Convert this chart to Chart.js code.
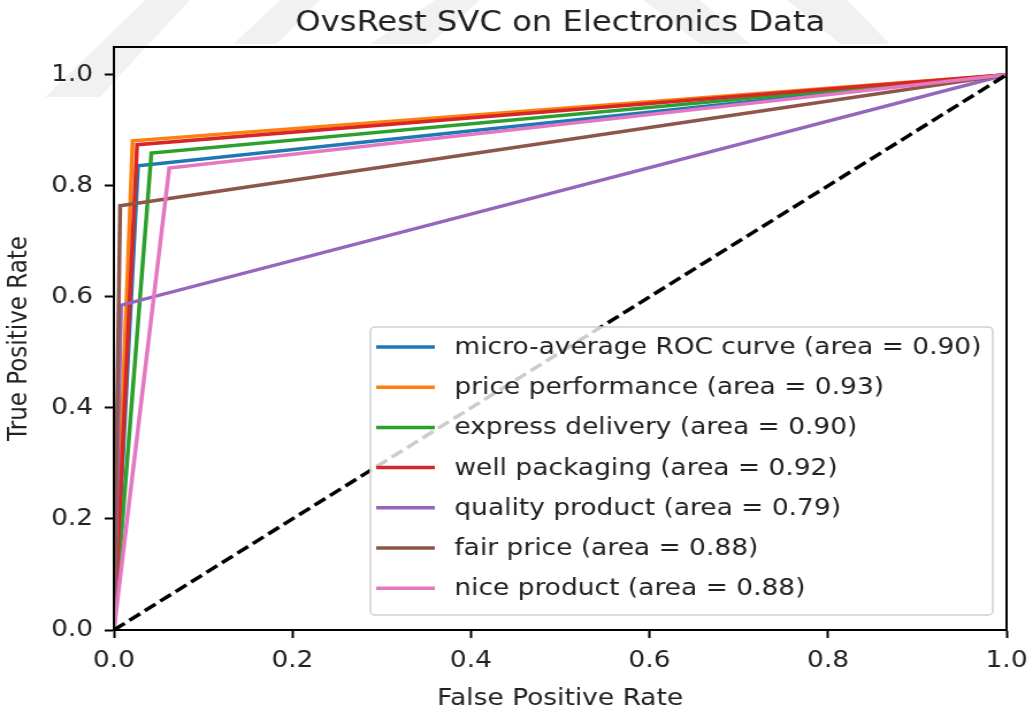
<!DOCTYPE html>
<html lang="en">
<head>
    <meta charset="UTF-8">
    <title>OvsRest SVC on Electronics Data</title>
    <script src="https://cdn.jsdelivr.net/npm/chart.js"></script>
    <style>
        body { margin: 0; background: #fff; overflow: hidden; }
        /* the source figure is stretched sideways, so draw narrow and stretch */
        #wrap { width: 898px; height: 716px; transform: scaleX(1.15033); transform-origin: 0 0; }
    </style>
</head>
<body>
    <div id="wrap"><canvas id="roc" width="898" height="716"></canvas></div>
    <script>
        // ROC curves: (0,0) -> corner -> (1,1)
        const classNames = ['micro-average ROC curve', 'price performance', 'express delivery',
            'well packaging', 'quality product', 'fair price', 'nice product'];
        const aucValues = [0.90, 0.93, 0.90, 0.92, 0.79, 0.88, 0.88];
        const fprValues = [
            [0, 0.027, 1],
            [0, 0.021, 1],
            [0, 0.042, 1],
            [0, 0.026, 1],
            [0, 0.008, 1],
            [0, 0.007, 1],
            [0, 0.062, 1]
        ];
        const tprValues = [
            [0, 0.836, 1],
            [0, 0.881, 1],
            [0, 0.859, 1],
            [0, 0.874, 1],
            [0, 0.585, 1],
            [0, 0.764, 1],
            [0, 0.832, 1]
        ];
        const chanceLine = [0, 1];
        const tickValues = [0, 0.2, 0.4, 0.6, 0.8, 1.0];
        const titleText = 'OvsRest SVC on Electronics Data';

        const colors = ['#1f77b4', '#ff7f0e', '#2ca02c', '#d62728', '#9467bd', '#8c564b', '#e377c2'];
        const FONT = 'DejaVu Sans';
        const TEXT = '#222';
        const SX = 1.15033;

        const datasets = classNames.map((name, i) => ({
            label: name + ' (area = ' + aucValues[i].toFixed(2) + ')',
            data: fprValues[i].map((x, j) => ({ x: x, y: tprValues[i][j] })),
            borderColor: colors[i],
            borderWidth: 3.5,
            order: classNames.length - i + 1
        }));
        datasets.push({
            label: '_chance',
            data: chanceLine.map(v => ({ x: v, y: v })),
            borderColor: '#000',
            borderWidth: 3.5,
            borderDash: [11.5, 5],
            order: 0
        });

        // faint watermark stripes behind the title (page pixels)
        const stripes = [
            [[45, 97], [100, 97], [190, 0], [145, 0]],
            [[233, 44], [277, 44], [320, 0], [280, 0]],
            [[370, 44], [430, 44], [480, 0], [435, 0]],
            [[643, 0], [700, 0], [750, 44], [700, 44]],
            [[787, 0], [847, 0], [890, 44], [840, 44]]
        ];

        const decor = {
            id: 'decor',
            beforeDraw(chart) {
                const ctx = chart.ctx;
                ctx.save();
                ctx.fillStyle = 'rgba(0,0,0,0.055)';
                stripes.forEach(p => {
                    ctx.beginPath();
                    p.forEach(([x, y], k) => k ? ctx.lineTo(x / SX, y) : ctx.moveTo(x / SX, y));
                    ctx.closePath();
                    ctx.fill();
                });
                ctx.restore();
            },
            afterDatasetsDraw(chart) {
                // matplotlib style legend box inside the lower right corner
                const ctx = chart.ctx;
                const area = chart.chartArea;
                const items = chart.data.datasets.filter(d => !d.label.startsWith('_'));
                const w = 541, rowH = 40.2, h = 288;
                const x0 = area.right - 12 - w;
                const y0 = area.bottom - 15 - h;
                ctx.save();
                ctx.beginPath();
                ctx.roundRect(x0, y0, w, h, 4);
                ctx.fillStyle = 'rgba(255,255,255,0.8)';
                ctx.fill();
                ctx.strokeStyle = '#d0d0d0';
                ctx.lineWidth = 1.5;
                ctx.stroke();
                ctx.font = '23px "' + FONT + '"';
                ctx.textBaseline = 'middle';
                ctx.fillStyle = TEXT;
                items.forEach((d, i) => {
                    const y = y0 + 20 + i * rowH;
                    ctx.beginPath();
                    ctx.moveTo(x0 + 5, y);
                    ctx.lineTo(x0 + 56, y);
                    ctx.strokeStyle = d.borderColor;
                    ctx.lineWidth = 3.5;
                    ctx.stroke();
                    ctx.fillText(d.label, x0 + 73, y + 1);
                });
                ctx.restore();
            },
            afterDraw(chart) {
                const ctx = chart.ctx;
                const a = chart.chartArea;
                ctx.save();
                ctx.strokeStyle = '#000';
                ctx.lineWidth = 2;
                ctx.strokeRect(a.left, a.top, a.right - a.left, a.bottom - a.top);
                // title centred over the axes, like matplotlib
                ctx.font = '28px "' + FONT + '"';
                ctx.fillStyle = TEXT;
                ctx.textAlign = 'center';
                ctx.textBaseline = 'middle';
                ctx.fillText(titleText, (a.left + a.right) / 2, 23.5);
                ctx.restore();
            }
        };

        const axisCommon = {
            type: 'linear',
            grid: { drawOnChartArea: false, drawTicks: true, tickLength: 8, tickWidth: 2, tickColor: '#000' },
            border: { display: true, color: '#000', width: 2 },
            afterBuildTicks: s => { s.ticks = tickValues.map(v => ({ value: v })); },
            ticks: {
                color: TEXT,
                font: { family: FONT, size: 23 },
                callback: v => Number(v).toFixed(1)
            }
        };

        new Chart(document.getElementById('roc'), {
            type: 'scatter',
            data: { datasets: datasets },
            options: {
                responsive: false,
                animation: false,
                showLine: true,
                elements: { point: { radius: 0 }, line: { tension: 0, fill: false } },
                layout: { padding: { left: 0, right: 23, top: 47, bottom: 0 } },
                plugins: {
                    legend: { display: false },
                    tooltip: { enabled: false },
                    title: { display: false }
                },
                scales: {
                    x: Object.assign({}, axisCommon, {
                        min: 0, max: 1,
                        position: 'bottom',
                        afterFit: s => { s.height = 86; s.paddingLeft = 0; s.paddingRight = 0; },
                        ticks: Object.assign({}, axisCommon.ticks, { padding: 9 }),
                        title: {
                            display: true, text: 'False Positive Rate', color: TEXT,
                            font: { family: FONT, size: 23 }, padding: { top: 0, bottom: 3 }
                        }
                    }),
                    y: Object.assign({}, axisCommon, {
                        min: 0, max: 1.05,
                        position: 'left',
                        afterFit: s => { s.width = 99; },
                        ticks: Object.assign({}, axisCommon.ticks, { padding: 10 }),
                        title: {
                            display: true, text: 'True Positive Rate', color: TEXT,
                            font: { family: FONT, size: 23 }, padding: { top: 3, bottom: 0 }
                        }
                    })
                }
            },
            plugins: [decor]
        });
    </script>
</body>
</html>
